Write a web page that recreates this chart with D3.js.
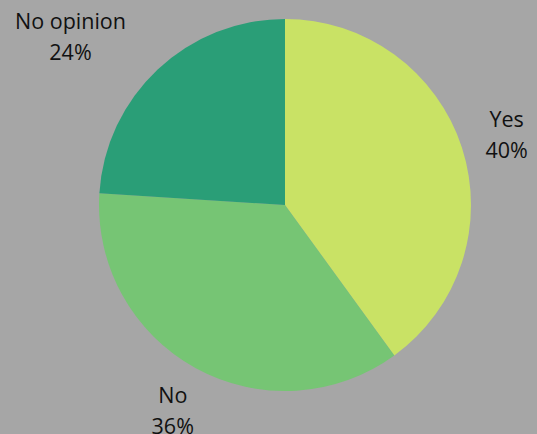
<!DOCTYPE html>
<html><head><meta charset="utf-8">
<script src="https://cdn.jsdelivr.net/npm/d3@7/dist/d3.min.js"></script>
<style>html,body{margin:0;padding:0;background:#a6a6a6;}svg{display:block;}</style>
</head><body>
<svg id="c" width="537" height="434"></svg>
<script>
const categories = ["Yes", "No", "No opinion"];
const values = [40, 36, 24];
const colors = ["#c9e265", "#76c574", "#2a9e77"];

const W = 537, H = 434, cx = 285, cy = 205, R = 186;
const svg = d3.select("#c");
svg.append("rect").attr("width", W).attr("height", H).attr("fill", "#a6a6a6");
const data = categories.map((c, i) => ({cat: c, val: values[i], col: colors[i]}));
const pie = d3.pie().value(d => d.val).sort(null);
const arcs = pie(data);
const g = svg.append("g").attr("transform", `translate(${cx},${cy})`);
const arc = d3.arc().innerRadius(0).outerRadius(R);
g.selectAll("path").data(arcs).join("path").attr("d", arc).attr("fill", d => d.data.col);

const labelArc = d3.arc().innerRadius(233).outerRadius(233);
const extraX = {"Yes": 0, "No": 0, "No opinion": -55};
const lbl = g.selectAll("text.l").data(arcs).join("text").attr("class", "l")
  .attr("transform", d => { const [x, y] = labelArc.centroid(d); return `translate(${x + extraX[d.data.cat]},${y})`; })
  .attr("text-anchor", "middle")
  .style("font-family", "'Open Sans', sans-serif").style("font-size", "21.5px").attr("fill", "#111");
lbl.append("tspan").attr("x", 0).attr("dy", "-6").text(d => d.data.cat);
lbl.append("tspan").attr("x", 0).attr("dy", "31").text(d => d.data.val + "%");
</script>
</body></html>
